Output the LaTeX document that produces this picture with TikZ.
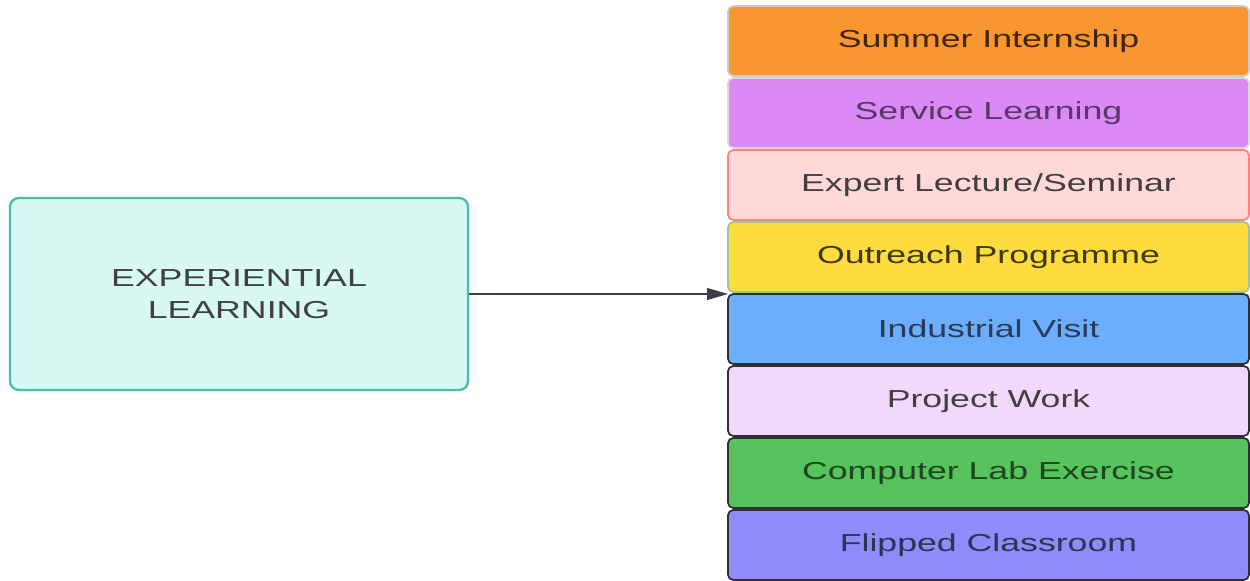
\documentclass[tikz,border=0pt]{standalone}
\usepackage{fontspec}
\setsansfont[FakeStretch=1.45]{Liberation Sans}
\usepackage{tikz}
\usetikzlibrary{arrows.meta, positioning}
\definecolor{ExpTeal}{HTML}{45BFA8}
\definecolor{ExpFill}{HTML}{D8F8F3}
\definecolor{SumOrange}{HTML}{F8962F}
\definecolor{SerPurple}{HTML}{DA89F7}
\definecolor{ExpPink}{HTML}{FFD8D8}
\definecolor{OutYellow}{HTML}{FDDC40}
\definecolor{IndBlue}{HTML}{6CADFD}
\definecolor{ProLilac}{HTML}{F2D8FB}
\definecolor{ComGreen}{HTML}{56C35C}
\definecolor{FlipBlue}{HTML}{8E8CF9}
\definecolor{EdgeDark}{HTML}{2E2F33}
\definecolor{ArrowGray}{HTML}{3A3F4A}
\tikzset{
  % Box styles
  expbox/.style={rectangle, rounded corners=5pt, draw=ExpTeal, line width=1.3pt, fill=ExpFill, minimum width=9.16cm, minimum height=3.84cm, font=\sffamily\fontsize{14}{18}\selectfont, align=center, text=black!75},
  actbox/.style={rectangle, rounded corners=3pt, line width=1pt, outer sep=0pt, inner sep=0pt, minimum width=10.42cm, minimum height=1.4cm, font=\sffamily\fontsize{14}{17}\selectfont, align=center},
  % Arrow styles
  arrow/.style={-{Triangle[length=0.42cm,width=0.24cm]}, line width=0.6pt, ArrowGray}
}
\begin{document}
\begin{tikzpicture}
  \useasboundingbox (0,0) rectangle (25,11.6);

  % Activities
  \node[actbox, fill=SumOrange, draw=black!20, text=SumOrange!25!black] (summer) at (19.77,10.78) {Summer Internship};
  \node[actbox, fill=SerPurple, draw=black!15, text=SerPurple!40!black, below=0.04cm of summer] (service) {Service Learning};
  \node[actbox, fill=ExpPink, draw=ExpPink!60!red, text=black!75, below=0.04cm of service] (expert) {Expert Lecture/Seminar};
  \node[actbox, fill=OutYellow, draw=green!45!black!40, text=OutYellow!25!black, below=0.04cm of expert] (outreach) {Outreach Programme};
  \node[actbox, fill=IndBlue, draw=EdgeDark, text=IndBlue!35!black, below=0.04cm of outreach] (ind) {Industrial Visit};
  \node[actbox, fill=ProLilac, draw=EdgeDark, text=black!75, below=0.04cm of ind] (project) {Project Work};
  \node[actbox, fill=ComGreen, draw=EdgeDark, text=ComGreen!35!black, below=0.04cm of project] (lab) {Computer Lab Exercise};
  \node[actbox, fill=FlipBlue, draw=EdgeDark, text=FlipBlue!35!black, below=0.04cm of lab] (flip) {Flipped Classroom};

  % Main box
  \node[expbox] (exp) at (4.78,5.72) {EXPERIENTIAL\\LEARNING};

  \draw[arrow] (exp.east) -- (exp.east -| ind.north west);
\end{tikzpicture}
\end{document}
